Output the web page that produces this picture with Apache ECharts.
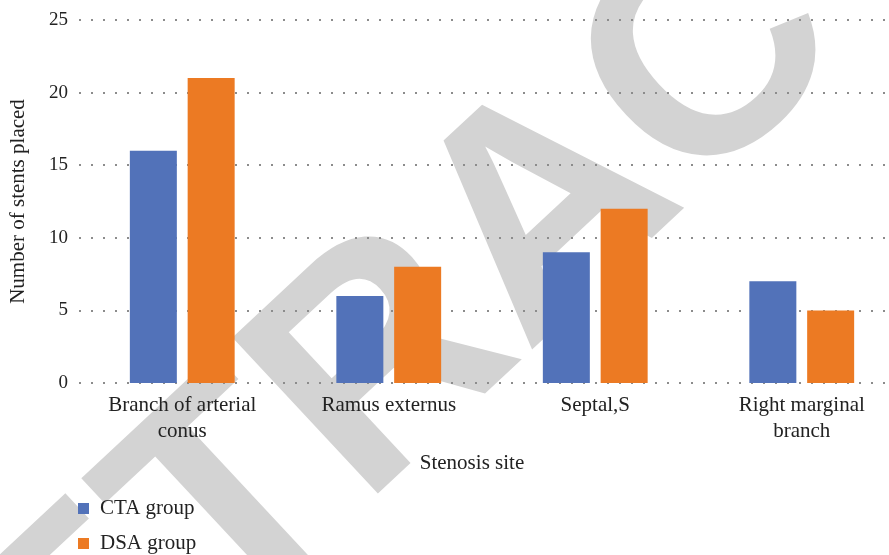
<!DOCTYPE html>
<html>
<head>
<meta charset="utf-8">
<script src="https://cdn.jsdelivr.net/npm/echarts@6/dist/echarts.min.js"></script>
<style>
html,body{margin:0;padding:0;background:#fff;overflow:hidden;width:889px;height:555px;}
#chart{width:905px;height:600px;}
</style>
</head>
<body>
<div id="chart"></div>
<script>
const categories = ['Branch of arterial\nconus', 'Ramus externus', 'Septal,S', 'Right marginal\nbranch'];
const ctaValues = [16, 6, 9, 7];
const dsaValues = [21, 8, 12, 5];
const seriesNames = ['CTA group', 'DSA group'];
const yTicks = { min: 0, max: 25, interval: 5 };
const xAxisTitle = 'Stenosis site';
const yAxisTitle = 'Number of stents placed';
const watermark = 'RETRACTED';

const FONT = '"Liberation Serif", "DejaVu Serif", serif';
const chart = echarts.init(document.getElementById('chart'), null, {renderer: 'canvas'});
chart.setOption({
  animation: false,
  backgroundColor: '#ffffff',
  color: ['#5272B9', '#EC7A23'],
  graphic: [{
    type: 'text',
    z: -10,
    x: 550, y: 216,
    rotation: 43 * Math.PI / 180,
    style: {
      text: watermark,
      font: 'bold 310px "Liberation Sans", Arial, sans-serif',
      fill: '#d3d3d3',
      align: 'center',
      verticalAlign: 'middle'
    }
  }],
  grid: { left: 79, top: 20, right: 0, height: 363, containLabel: false },
  legend: {
    orient: 'vertical',
    left: 73, top: 493,
    icon: 'rect',
    itemWidth: 11, itemHeight: 11,
    itemGap: 14,
    textStyle: { fontFamily: FONT, fontSize: 21, color: '#222', padding: [0, 0, 0, 6] },
    data: seriesNames
  },
  xAxis: {
    type: 'category',
    data: categories,
    axisLine: { show: false },
    axisTick: { show: false },
    axisLabel: { margin: 9, fontFamily: FONT, fontSize: 21, color: '#222', lineHeight: 26, interval: 0 },
    name: xAxisTitle,
    nameLocation: 'middle',
    nameGap: 70,
    nameTextStyle: { fontFamily: FONT, fontSize: 21, color: '#222', padding: [0, 40, 0, 0] }
  },
  yAxis: {
    type: 'value',
    min: yTicks.min, max: yTicks.max, interval: yTicks.interval,
    axisLine: { show: false },
    axisTick: { show: false },
    axisLabel: { margin: 11, fontFamily: FONT, fontSize: 19, color: '#222' },
    splitLine: { show: true, lineStyle: { color: '#8c8c8c', width: 2, type: [2, 10] } },
    name: yAxisTitle,
    nameLocation: 'middle',
    nameGap: 50,
    nameTextStyle: { fontFamily: FONT, fontSize: 21, color: '#222' }
  },
  series: [
    { name: seriesNames[0], type: 'bar', data: ctaValues, barWidth: 47, barGap: '23%' },
    { name: seriesNames[1], type: 'bar', data: dsaValues, barWidth: 47, barGap: '23%' }
  ]
});
</script>
</body>
</html>
